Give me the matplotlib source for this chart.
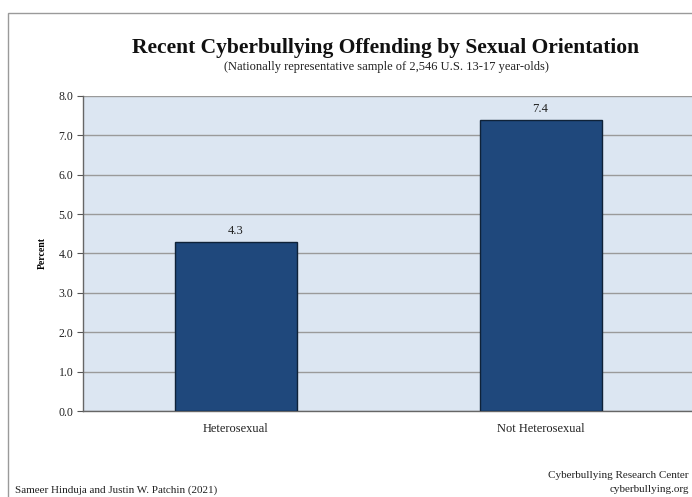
import matplotlib
matplotlib.use("Agg")
import matplotlib.pyplot as plt
from matplotlib.patches import Rectangle

categories = ["Heterosexual", "Not Heterosexual"]
values = [4.3, 7.4]
yticks = [0.0, 1.0, 2.0, 3.0, 4.0, 5.0, 6.0, 7.0, 8.0]

serif = ["Liberation Serif", "DejaVu Serif"]
plt.rcParams["font.family"] = serif

fig = plt.figure(figsize=(6.92, 4.97), dpi=100)
fig.patch.set_facecolor("white")

# outer chart frame
fig.patches.append(Rectangle((8 / 692, -0.1), 1.2, 1 - 13 / 497 + 0.1,
                             transform=fig.transFigure, fill=False,
                             edgecolor="#9a9a9a", linewidth=1.0))

ax = fig.add_axes([83 / 692, 1 - 411 / 497, 610 / 692, (411 - 96) / 497])
ax.set_facecolor("#dce6f2")

x = range(len(categories))
bars = ax.bar(x, values, width=0.4, color="#1f487c", edgecolor="#0f2238",
              linewidth=1.0, zorder=3)
for xi, v in zip(x, values):
    ax.text(xi, v + 0.12, f"{v:.1f}", ha="center", va="bottom",
            fontsize=9, color="#222222", zorder=4)

ax.set_xlim(-0.5, len(categories) - 0.5)
ax.set_ylim(0, 8)
ax.set_yticks(yticks)
ax.set_yticklabels([f"{t:.1f}" for t in yticks], fontsize=8.5, color="#222222")
ax.set_xticks(list(x))
ax.set_xticklabels(categories, fontsize=9, color="#222222")
ax.tick_params(axis="x", length=0, pad=9)
ax.tick_params(axis="y", length=4, width=0.8, color="#555555", pad=3)
ax.yaxis.grid(True, color="#9a9a9a", linewidth=1.0, zorder=1)
ax.set_axisbelow(True)
for s in ["top", "right"]:
    ax.spines[s].set_visible(False)
ax.spines["left"].set_color("#666666")
ax.spines["bottom"].set_color("#666666")
ax.spines["left"].set_linewidth(1.0)
ax.spines["bottom"].set_linewidth(1.0)

ax.set_ylabel("Percent", fontsize=7, fontweight="bold", labelpad=8)

fig.text(386 / 692, 1 - 48 / 497, "Recent Cyberbullying Offending by Sexual Orientation",
         ha="center", va="center", fontsize=15.5, fontweight="bold", color="#111111")
fig.text(386 / 692, 1 - 67 / 497, "(Nationally representative sample of 2,546 U.S. 13-17 year-olds)",
         ha="center", va="center", fontsize=9, color="#222222")

fig.text(15 / 692, 1 - 490 / 497, "Sameer Hinduja and Justin W. Patchin (2021)",
         ha="left", va="center", fontsize=8, color="#222222")
fig.text(689 / 692, 1 - 476 / 497, "Cyberbullying Research Center",
         ha="right", va="center", fontsize=8, color="#222222")
fig.text(689 / 692, 1 - 489 / 497, "cyberbullying.org",
         ha="right", va="center", fontsize=8, color="#222222")

fig.savefig("out.png", dpi=100)
